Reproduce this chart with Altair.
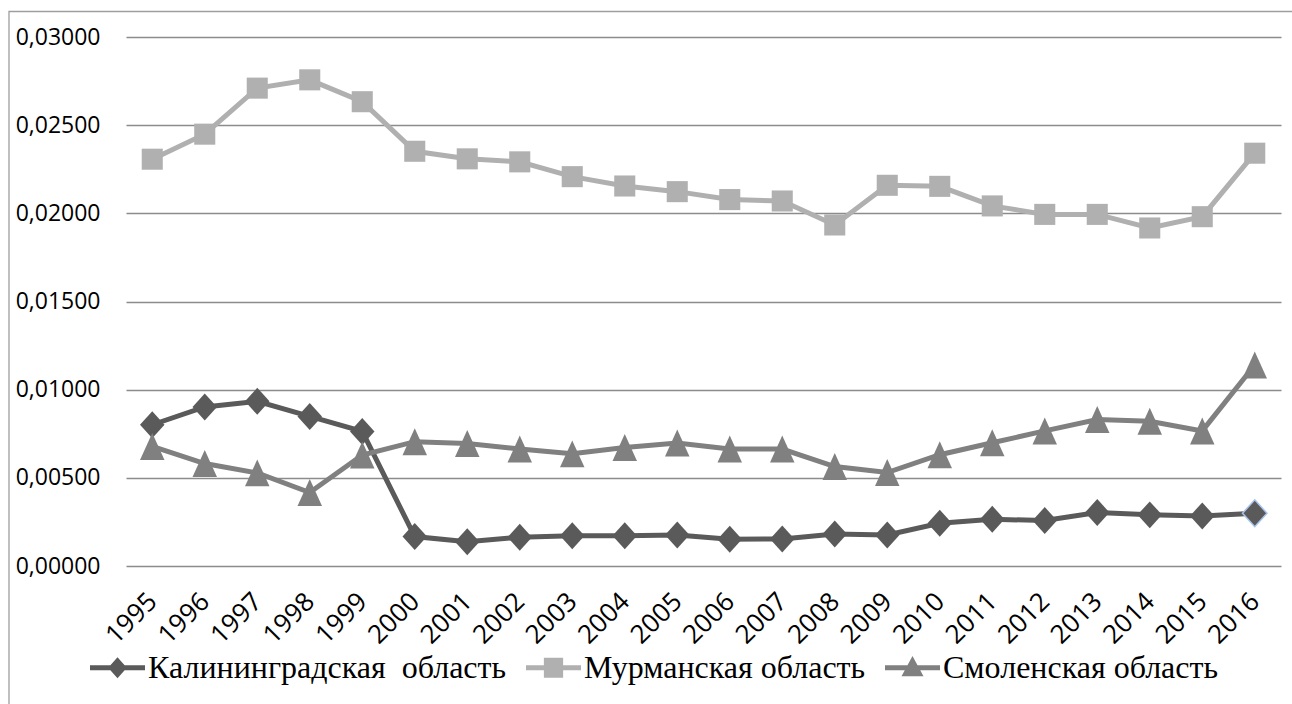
import altair as alt
import pandas as pd

# Years on the category axis
years = [str(y) for y in range(1995, 2017)]

# Series names (legend labels)
series = ["Калининградская\u00a0 область", "Мурманская область", "Смоленская область"]

# Series values
kaliningrad = [0.00801, 0.00902, 0.00934, 0.00848, 0.00763, 0.00167, 0.00138, 0.00163,
               0.00172, 0.00172, 0.00176, 0.00152, 0.00153, 0.00182, 0.00176, 0.00242,
               0.00265, 0.00258, 0.00303, 0.00290, 0.00284, 0.00299]
murmansk = [0.02307, 0.02449, 0.02710, 0.02757, 0.02633, 0.02352, 0.02309, 0.02292,
            0.02208, 0.02155, 0.02123, 0.02078, 0.02070, 0.01934, 0.02159, 0.02153,
            0.02042, 0.01994, 0.01994, 0.01917, 0.01981, 0.02341]
smolensk = [0.00678, 0.00581, 0.00528, 0.00417, 0.00629, 0.00705, 0.00695, 0.00663,
            0.00636, 0.00672, 0.00697, 0.00663, 0.00663, 0.00564, 0.00530, 0.00631,
            0.00699, 0.00766, 0.00831, 0.00821, 0.00766, 0.01140]

# Y-axis tick values
y_ticks = [0.0, 0.005, 0.01, 0.015, 0.02, 0.025, 0.03]

# Styling per series
colors = ["#5a5a5a", "#b0b0b0", "#808080"]
markers = [
    "M0,-1.1L1,0L0,1.1L-1,0Z",            # diamond
    "M-0.86,-0.86H0.86V0.86H-0.86Z",      # square
    "M0,-1.1L1,1.1L-1,1.1Z",              # triangle
]
legend_symbols = [
    "M-1,-0.09H1V0.09H-1Z M0,-0.38L0.34,0L0,0.38L-0.34,0Z",
    "M-1,-0.09H1V0.09H-1Z M-0.35,-0.36H0.35V0.36H-0.35Z",
    "M-1,-0.09H1V0.09H-1Z M0,-0.43L0.4,0.31L-0.4,0.31Z",
]
highlight_color = "#a9c4eb"

rows = []
for name, vals, col, mk in zip(series, [kaliningrad, murmansk, smolensk], colors, markers):
    for i, (yr, v) in enumerate(zip(years, vals)):
        last_k = (name == series[0] and i == len(years) - 1)
        rows.append({
            "year": yr, "value": v, "series": name, "color": col, "marker": mk,
            "outline": highlight_color if last_k else col,
            "ow": 1.5 if last_k else 0.0,
        })
df = pd.DataFrame(rows)

x_enc = alt.X("year:O", sort=years,
              scale=alt.Scale(type="point", padding=0.5),
              axis=alt.Axis(title=None, labelAngle=315, labelAlign="right",
                            labelBaseline="middle", labelPadding=31, ticks=False,
                            tickSize=0, domain=False, grid=False,
                            labelFont="Open Sans", labelFontSize=26,
                            labelColor="black", labelOverlap=False))
y_enc = alt.Y("value:Q",
              scale=alt.Scale(domain=[0, 0.03], nice=False),
              axis=alt.Axis(title=None, values=y_ticks, ticks=False, tickSize=0,
                            domain=False, grid=True, gridColor="#8c8c8c",
                            gridWidth=1.3, labelPadding=26,
                            labelFont="Open Sans", labelFontSize=23,
                            labelColor="black",
                            labelExpr="replace(format(datum.value, '.5f'), '.', ',')"))

base = alt.Chart(df)

lines = base.mark_line(strokeWidth=5, opacity=1).encode(
    x=x_enc, y=y_enc,
    color=alt.Color("color:N", scale=None),
    detail="series:N",
)

points = base.mark_point(filled=True, opacity=1, size=600).encode(
    x=x_enc, y=y_enc,
    color=alt.Color("color:N", scale=None),
    shape=alt.Shape("marker:N", scale=None),
    stroke=alt.Stroke("outline:N", scale=None),
    strokeWidth=alt.StrokeWidth("ow:Q", scale=None),
)

legend_def = alt.Legend(orient="none", legendX=-36, legendY=603, direction="horizontal",
                        title=None, labelFont="Liberation Serif", labelFontSize=32,
                        labelColor="black", symbolSize=3025, symbolStrokeWidth=0,
                        symbolOpacity=1, labelOffset=3, columnPadding=19, padding=0,
                        labelLimit=0)

legend_layer = base.mark_point(filled=True, opacity=1).encode(
    x=x_enc, y=y_enc,
    color=alt.Color("series:N", scale=alt.Scale(domain=series, range=colors),
                    legend=legend_def),
    shape=alt.Shape("series:N", scale=alt.Scale(domain=series, range=legend_symbols),
                    legend=legend_def),
).transform_filter("false")

# Outer frame of the chart object
frame = alt.Chart(alt.Data(values=[{}])).mark_rect(
    fillOpacity=0, stroke="#9e9e9e", strokeWidth=1.3
).encode(
    x=alt.value(-117), x2=alt.value(1400),
    y=alt.value(-25.5), y2=alt.value(900),
)

chart = alt.layer(frame, lines, points, legend_layer).properties(
    width=1155, height=529,
    autosize=alt.AutoSizeParams(type="none"),
    padding={"left": 126, "top": 37, "right": 11, "bottom": 138},
    background="white",
).configure_view(stroke=None)

chart.save("out.html", embed_options={"renderer": "svg", "actions": False})
